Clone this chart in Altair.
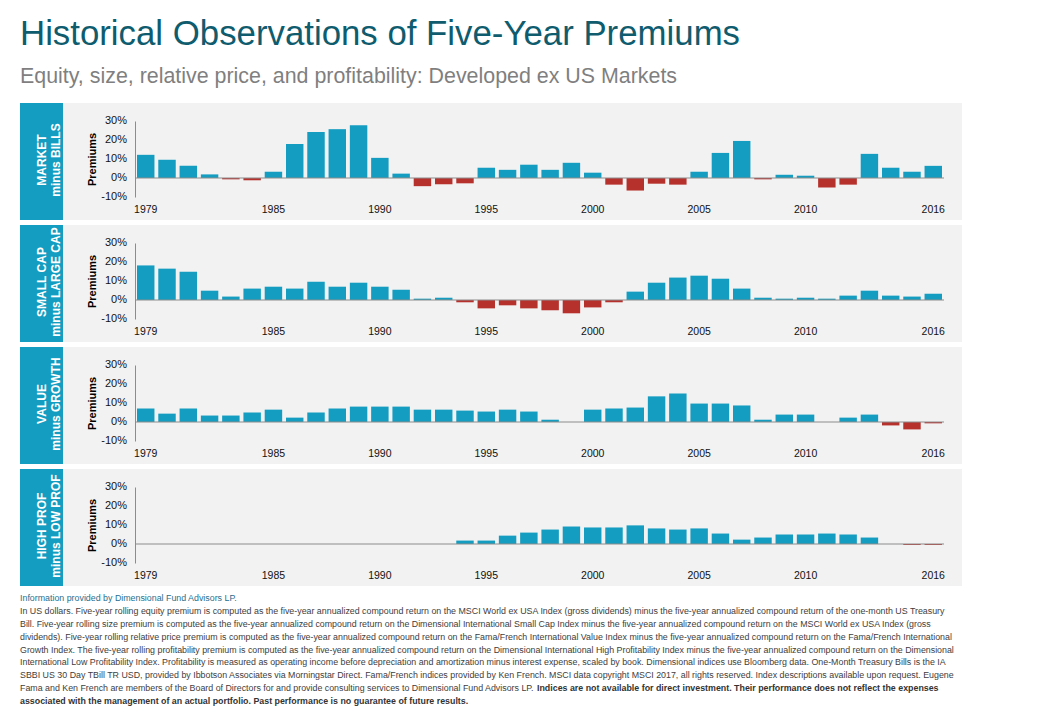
import altair as alt
import pandas as pd

YEARS = list(range(1979, 2017))
LABEL_YEARS = [1979, 1985, 1990, 1995, 2000, 2005, 2010, 2016]
TICKS = [-10, 0, 10, 20, 30]

market = [12.2, 9.6, 6.4, 1.9, -0.7, -1.2, 3.3, 17.9, 24.2, 25.7, 27.8, 10.6, 2.3, -4.3,
          -3.3, -2.8, 5.4, 4.3, 7.0, 4.3, 8.0, 2.8, -3.5, -6.6, -3.0, -3.5, 3.3, 13.2,
          19.5, -0.7, 1.7, 1.2, -5.0, -3.5, 12.7, 5.4, 3.3, 6.4]
small = [18.2, 16.5, 14.9, 4.9, 1.8, 6.0, 7.0, 6.0, 9.6, 7.0, 9.1, 7.0, 5.4, 0.7, 1.2,
         -1.2, -4.4, -2.8, -4.4, -5.4, -7.0, -3.9, -1.2, 4.4, 9.1, 11.8, 12.8, 11.2, 6.0,
         1.2, 0.7, 1.2, 0.7, 2.3, 4.9, 2.3, 1.8, 3.3]
value = [7.1, 4.4, 7.1, 3.4, 3.4, 5.0, 6.5, 2.3, 5.0, 7.1, 8.1, 8.1, 8.1, 6.5, 6.5, 6.0,
         5.5, 6.5, 5.5, 1.2, None, 6.5, 7.1, 7.6, 13.5, 15.0, 9.7, 9.7, 8.7, 1.2, 3.9, 3.9,
         None, 2.3, 3.9, -1.8, -3.9, -0.7]
prof = [None] * 15 + [1.8, 1.8, 4.4, 6.0, 7.6, 9.2, 8.7, 8.7, 9.8, 8.2, 7.6, 8.2, 5.5,
                      2.3, 3.4, 5.0, 5.0, 5.5, 5.0, 3.4, None, -0.5, -0.5]

PANELS = [
    ("MARKET", "minus BILLS", market),
    ("SMALL CAP", "minus LARGE CAP", small),
    ("VALUE", "minus GROWTH", value),
    ("HIGH PROF", "minus LOW PROF", prof),
]

TITLE = "Historical Observations of Five-Year Premiums"
SUBTITLE = "Equity, size, relative price, and profitability: Developed ex US Markets"

FOOT_INFO = "Information provided by Dimensional Fund Advisors LP."
FOOT_LINES = [
    "In US dollars. Five-year rolling equity premium is computed as the five-year annualized compound return on the MSCI World ex USA Index (gross dividends)  minus the five-year annualized compound return of the one-month US Treasury",
    "Bill. Five-year rolling size premium is computed as the five-year annualized compound return on the Dimensional International Small Cap Index minus the five-year annualized compound return on the MSCI World ex USA Index (gross",
    "dividends). Five-year rolling relative price premium is computed as the five-year annualized compound return on the Fama/French International Value Index minus the five-year annualized compound return on the Fama/French International",
    "Growth Index. The five-year rolling profitability premium is computed as the five-year annualized compound return on the Dimensional International High Profitability Index minus the five-year annualized compound return on the Dimensional",
    "International Low Profitability Index. Profitability is measured as operating income before depreciation and amortization minus interest expense, scaled by book. Dimensional indices use Bloomberg data. One-Month Treasury Bills is the IA",
    "SBBI US 30 Day TBill TR USD, provided by Ibbotson Associates via Morningstar Direct. Fama/French indices provided by Ken French. MSCI data copyright MSCI 2017, all rights reserved. Index descriptions available upon request. Eugene",
    "Fama and Ken French are members of the Board of Directors for and provide consulting services to Dimensional Fund Advisors LP.",
]
FOOT_BOLD = [
    "Indices are not available for direct investment. Their performance does not reflect the expenses",
    "associated with the management of an actual portfolio. Past performance is no guarantee of future results.",
]

FONT = "Liberation Sans"
TEAL = "#149dc0"
RED = "#b7312c"
BG = "#f2f2f2"
AXIS = "#8c8c8c"

PW, PH = 899, 117
X0, X1 = 72, 881
Y30, YM10 = 18, 94


def panel(l1, l2, vals):
    df = pd.DataFrame({"year": YEARS, "v": vals})
    x = alt.X(
        "year:O",
        scale=alt.Scale(domain=YEARS, range=[X0, X1], paddingInner=0.18, paddingOuter=0.094),
        axis=alt.Axis(values=LABEL_YEARS, title=None, orient="bottom", offset=-16,
                      domain=False, ticks=False, tickSize=0, labelPadding=0, labelAngle=0,
                      labelFontSize=10.5, labelFont=FONT, labelColor="#111111",
                      labelOverlap=False, grid=False),
    )
    y = alt.Y(
        "v:Q",
        scale=alt.Scale(domain=[-10, 30], range=[YM10, Y30], nice=False, zero=False),
        axis=alt.Axis(values=TICKS, orient="left", offset=-X0, domain=True, domainColor=AXIS,
                      ticks=False, tickSize=0, labels=False,
                      grid=False, title="Premiums", titleFont=FONT, titleFontSize=11,
                      titleFontWeight="bold", titleColor="#000000", titleAngle=270,
                      titleX=-43, titleY=56, titleAlign="center", titleBaseline="middle"),
    )
    bars = alt.Chart(df).mark_bar().encode(
        x=x, y=y, y2=alt.datum(0),
        color=alt.condition(alt.datum.v >= 0, alt.value(TEAL), alt.value(RED)),
    )
    ticklabels = alt.Chart(pd.DataFrame({"v": TICKS})).transform_calculate(
        lab="datum.v + '%'"
    ).mark_text(
        font=FONT, fontSize=11, color="#111111", align="right", baseline="middle"
    ).encode(x=alt.value(X0 - 8), y=alt.Y("v:Q"), text="lab:N")
    zero = alt.Chart(pd.DataFrame({"z": [0]})).mark_rule(color=AXIS, strokeWidth=1).encode(
        x=alt.value(X0), x2=alt.value(X1), y=alt.datum(0)
    )
    plot = alt.layer(bars, ticklabels, zero).properties(
        width=PW, height=PH, view=alt.ViewBackground(fill=BG, stroke=None)
    )
    label = alt.Chart(pd.DataFrame({"a": [0]})).mark_text(
        text=[l1, l2], angle=270, color="white", fontWeight="bold", fontSize=12, font=FONT,
        align="center", baseline="middle", lineHeight=14,
    ).encode(x=alt.value(21.5), y=alt.value(57)).properties(
        width=43, height=PH, view=alt.ViewBackground(fill=TEAL, stroke=None)
    )
    return alt.hconcat(label, plot, spacing=0)


rows = [{"row": 0, "t": FOOT_INFO, "kind": "info", "x": 0}]
for i, t in enumerate(FOOT_LINES):
    rows.append({"row": i + 1, "t": t, "kind": "reg", "x": 0})
rows.append({"row": 7, "t": FOOT_BOLD[0], "kind": "bold", "x": 517})
rows.append({"row": 8, "t": FOOT_BOLD[1], "kind": "bold", "x": 0})
fdf = pd.DataFrame(rows)

FS = 8.85
fy = alt.Y("row:O", scale=alt.Scale(type="point", domain=list(range(9)), range=[7, 110], padding=0), axis=None)
fx = alt.X("x:Q", scale=None, axis=None)
base = alt.Chart(fdf)
foot_info = base.transform_filter(alt.datum.kind == "info").mark_text(
    font=FONT, fontSize=FS, color="#1f6f8f", align="left", baseline="middle"
).encode(x=fx, y=fy, text="t:N")
foot_reg = base.transform_filter(alt.datum.kind == "reg").mark_text(
    font=FONT, fontSize=FS, color="#404040", align="left", baseline="middle"
).encode(x=fx, y=fy, text="t:N")
foot_bold = base.transform_filter(alt.datum.kind == "bold").mark_text(
    font=FONT, fontSize=FS, fontWeight="bold", color="#333333", align="left", baseline="middle"
).encode(x=fx, y=fy, text="t:N")
foot = alt.layer(foot_info, foot_reg, foot_bold).properties(
    width=942, height=112, view=alt.ViewBackground(fill=None, stroke=None)
)

chart = alt.vconcat(
    *[panel(a, b, v) for a, b, v in PANELS], foot, spacing=5
).properties(
    title=alt.Title(TITLE, subtitle=SUBTITLE, anchor="start", font=FONT, fontSize=34.8,
                    fontWeight="normal", color="#0e5c6e", subtitleFont=FONT,
                    subtitleFontSize=21.4, subtitleColor="#7f7f7f", subtitlePadding=13,
                    offset=15),
    padding={"left": 12, "top": 8, "right": 5, "bottom": 5},
    background="white",
).configure_view(stroke=None)

chart.save("out.html", embed_options={"renderer": "svg", "actions": False})
